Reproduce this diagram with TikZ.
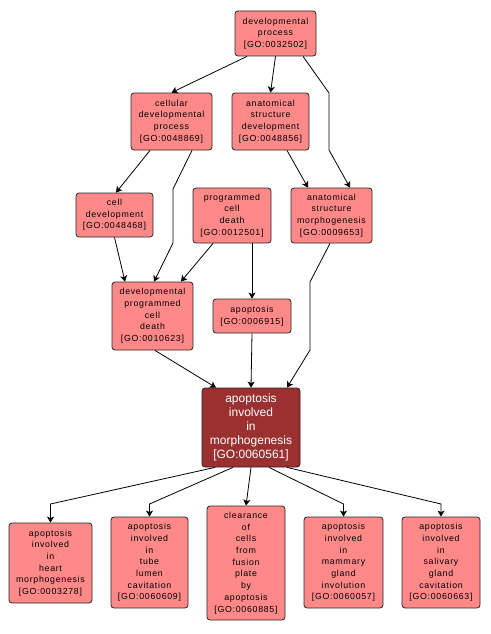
\documentclass[tikz,border=0pt]{standalone}
\usepackage{fontspec}
\setmainfont{Liberation Sans}
\newfontfamily\lab[LetterSpace=8]{Liberation Sans}
\usetikzlibrary{arrows.meta}
\definecolor{lightnode}{RGB}{255,137,137}
\definecolor{darknode}{RGB}{155,48,48}
\tikzset{
  x=1pt,y=-1pt,
  gobox/.style={draw=black!85, line width=0.8pt, fill=lightnode, rounded corners=3pt,
    align=center, inner sep=0pt, font=\lab\fontsize{8.8}{11.7}\selectfont},
  centerbox/.style={draw=black!85, line width=0.8pt, fill=darknode, rounded corners=3pt,
    align=center, inner sep=0pt, text=white, font=\fontsize{12}{14}\selectfont},
  edge/.style={line width=0.8pt, -{Stealth[length=6pt,width=7pt,inset=1.5pt]}},
}
\newcommand{\gonode}[6]{\node[#1, minimum width=#4pt, minimum height=#5pt] (#2) at (#3) {#6};}
\begin{document}
\begin{tikzpicture}
\useasboundingbox[fill=white] (0,0) rectangle (490,634);
\gonode{gobox}{dp}{275.5,33.5}{81}{45}{developmental\\process\\{[GO:0032502]}}
\gonode{gobox}{cdp}{171.5,121.5}{81}{57}{cellular\\developmental\\process\\{[GO:0048869]}}
\gonode{gobox}{asd}{270.5,121.5}{77}{57}{anatomical\\structure\\development\\{[GO:0048856]}}
\gonode{gobox}{cd}{114.5,215}{77}{44}{cell\\development\\{[GO:0048468]}}
\gonode{gobox}{pcd}{232,215.5}{78}{55}{programmed\\cell\\death\\{[GO:0012501]}}
\gonode{gobox}{asm}{331.5,215.5}{81}{55}{anatomical\\structure\\morphogenesis\\{[GO:0009653]}}
\gonode{gobox}{dpcd}{152.5,316}{81}{68}{developmental\\programmed\\cell\\death\\{[GO:0010623]}}
\gonode{gobox}{apo}{252,316}{78}{34}{apoptosis\\{[GO:0006915]}}
\gonode{centerbox}{ctr}{251,427.5}{98}{79}{apoptosis\\involved\\in\\morphogenesis\\{[GO:0060561]}}
\gonode{gobox}{heart}{50.5,563}{83}{80}{apoptosis\\involved\\in\\heart\\morphogenesis\\{[GO:0003278]}}
\gonode{gobox}{tube}{149.5,562.5}{77}{91}{apoptosis\\involved\\in\\tube\\lumen\\cavitation\\{[GO:0060609]}}
\gonode{gobox}{clear}{246,563}{78}{114}{clearance\\of\\cells\\from\\fusion\\plate\\by\\apoptosis\\{[GO:0060885]}}
\gonode{gobox}{mam}{343.5,562.5}{79}{91}{apoptosis\\involved\\in\\mammary\\gland\\involution\\{[GO:0060057]}}
\gonode{gobox}{sal}{441,562.5}{78}{91}{apoptosis\\involved\\in\\salivary\\gland\\cavitation\\{[GO:0060663]}}
% edges
\draw[edge] ([xshift=-28.5pt]dp.south) -- (cdp.north);
\draw[edge] (dp.south) -- (asd.north);
\draw[edge] ([xshift=27.5pt]dp.south) -- (329,93) -- (329,150) -- ([xshift=18.5pt]asm.north);
\draw[edge] ([xshift=16.5pt]asd.south) -- ([xshift=-23.5pt]asm.north);
\draw[edge] ([xshift=-21.5pt]cdp.south) -- ([xshift=1.5pt]cd.north);
\draw[edge] ([xshift=20.5pt]cdp.south) -- (173,189) -- (173,243) -- ([xshift=1.5pt]dpcd.north);
\draw[edge] (cd.south) -- ([xshift=-27.5pt]dpcd.north);
\draw[edge] ([xshift=-19pt]pcd.south) -- ([xshift=28.5pt]dpcd.north);
\draw[edge] ([xshift=20pt]pcd.south) -- (apo.north);
\draw[edge] ([xshift=-1.5pt]asm.south) -- (310,282) -- (310,350) -- ([xshift=36pt]ctr.north);
\draw[edge] ([xshift=2.5pt]dpcd.south) -- ([xshift=-35pt]ctr.north);
\draw[edge] (apo.south) -- (ctr.north);
\draw[edge] ([xshift=-36pt]ctr.south) -- (50.5,504) -- (heart.north);
\draw[edge] ([xshift=-18pt]ctr.south) -- (149.5,504) -- (tube.north);
\draw[edge] (ctr.south) -- (clear.north);
\draw[edge] ([xshift=18pt]ctr.south) -- (343.5,504) -- (mam.north);
\draw[edge] ([xshift=36pt]ctr.south) -- (441,504) -- (sal.north);
\end{tikzpicture}
\end{document}
